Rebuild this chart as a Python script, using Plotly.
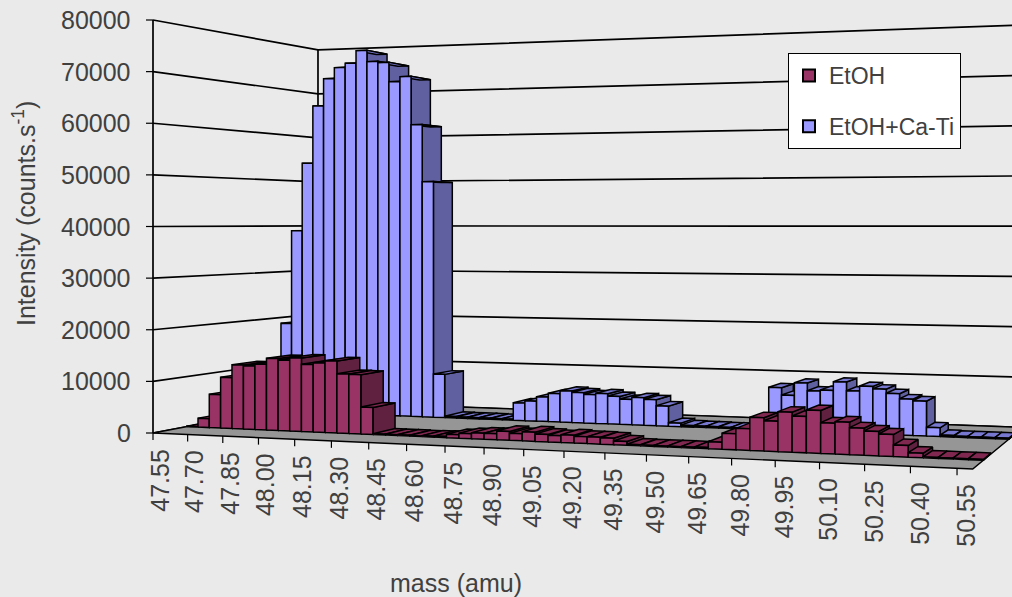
import plotly.graph_objects as go

etoh = [100, 1760, 6620, 10070, 12640, 12510, 12920, 14100, 13830, 14330, 13110, 13480, 13950, 11490, 11440, 5200,
        150, 150, 150, 120, 150, 200,
        630, 920, 1120, 1115, 1650, 1310, 1710, 1375, 1230, 1440, 1240, 1270, 1185, 680,
        200, 150, 150, 150, 150, 200,
        1260, 2870, 3860, 5930, 5410, 7110, 6430, 7580, 5430, 5700, 4740, 4260, 3820, 2010, 770,
        150, 150, 150, 150]
etoh_ca_ti = [100, 19010, 39010, 53500, 65770, 71560, 73840, 74700, 77310, 74900, 74610, 70520, 71510, 61340, 49330, 9030,
              300, 250, 250, 250, 200, 200,
              3610, 4100, 5010, 5790, 6400, 6150, 5820, 6100, 5630, 5100, 5540, 5210, 4010, 700,
              300, 250, 250, 200, 200, 200, 200,
              8390, 6950, 9440, 7960, 8170, 9860, 8190, 9170, 8720, 7920, 6960, 6660, 1670, 300,
              200, 200, 200, 200]
mass_labels = ["47.55", "47.70", "47.85", "48.00", "48.15", "48.30", "48.45", "48.60", "48.75", "48.90", "49.05",
               "49.20", "49.35", "49.50", "49.65", "49.80", "49.95", "50.10", "50.25", "50.40", "50.55"]
intensity_ticks = [0, 10000, 20000, 30000, 40000, 50000, 60000, 70000, 80000]

N = len(etoh)
TEXT = "#404040"
FS = 25
FAMILY = "Liberation Sans"


def project(i, d, v=0.0):
    w = 1 - 0.002408 * i + 0.173 * d
    x = (153 + 11.096 * i + 220 * d) / w
    y = (433 - 0.539 * i + 38.5 * d - v * 413 / 80000) / w
    return x, y


def poly(points, fill, width=1.5, line="#000000"):
    xy = [project(*p) for p in points]
    xy.append(xy[0])
    return go.Scatter(x=[p[0] for p in xy], y=[p[1] for p in xy], mode="lines", fill="toself",
                      fillcolor=fill, line=dict(color=line, width=width), hoverinfo="skip", showlegend=False)


fig = go.Figure()

# walls: gridlines run along the left wall and then along the back wall
for v in intensity_ticks:
    pts = [project(0, 0, v), project(0, 1, v), project(N, 1, v)]
    fig.add_trace(go.Scatter(x=[p[0] for p in pts], y=[p[1] for p in pts], mode="lines",
                             line=dict(color="#000000", width=1.7), hoverinfo="skip", showlegend=False))
for d in (0, 1):
    pts = [project(0, d, 0), project(0, d, intensity_ticks[-1])]
    fig.add_trace(go.Scatter(x=[p[0] for p in pts], y=[p[1] for p in pts], mode="lines",
                             line=dict(color="#000000", width=1.7), hoverinfo="skip", showlegend=False))

# floor
fig.add_trace(poly([(0, 0), (N, 0), (N, 1), (0, 1)], "#969696", width=1.4))


def bars(values, d1, d2, front, side, top):
    for i, v in enumerate(values):
        fig.add_trace(poly([(i + 1, d1, 0), (i + 1, d2, 0), (i + 1, d2, v), (i + 1, d1, v)], side))
        fig.add_trace(poly([(i, d1, v), (i + 1, d1, v), (i + 1, d2, v), (i, d2, v)], top))
        fig.add_trace(poly([(i, d1, 0), (i + 1, d1, 0), (i + 1, d1, v), (i, d1, v)], front))


bars(etoh_ca_ti, 0.678, 0.822, "#9999FF", "#6060A0", "#7878D0")
bars(etoh, 0.18, 0.325, "#993366", "#602040", "#80284F")

# axis ticks
for v in intensity_ticks:
    x0, y0 = project(0, 0, v)
    fig.add_trace(go.Scatter(x=[x0 - 7, x0], y=[y0, y0], mode="lines", line=dict(color="#000000", width=1.2),
                             hoverinfo="skip", showlegend=False))
for k in range(len(mass_labels)):
    x0, y0 = project(3 * k, 0, 0)
    fig.add_trace(go.Scatter(x=[x0, x0], y=[y0, y0 + 7], mode="lines", line=dict(color="#000000", width=1.2),
                             hoverinfo="skip", showlegend=False))

# legend entries
fig.add_trace(go.Scatter(x=[None], y=[None], mode="markers", name="EtOH", legendgroup="a",
                         marker=dict(symbol="square", size=12, color="#993366", line=dict(color="#000000", width=2))))
fig.add_trace(go.Scatter(x=[None], y=[None], mode="markers", name="EtOH+Ca-Ti", legendgroup="b",
                         marker=dict(symbol="square", size=12, color="#9999FF", line=dict(color="#000000", width=2))))

ann = []
for v in intensity_ticks:
    x0, y0 = project(0, 0, v)
    ann.append(dict(x=x0 - 20, y=y0, xref="x", yref="y", text=str(v), showarrow=False, xanchor="right",
                    yanchor="middle", font=dict(size=FS, color=TEXT)))
for k, lab in enumerate(mass_labels):
    x0, y0 = project(3 * k + 0.6, 0, 0)
    ann.append(dict(x=x0, y=y0 + 13, xref="x", yref="y", text=lab, showarrow=False, textangle=-90, xanchor="center",
                    yanchor="top", font=dict(size=FS, color=TEXT)))
ann.append(dict(x=456, y=583, xref="x", yref="y", text="mass (amu)", showarrow=False, xanchor="center",
                yanchor="middle", font=dict(size=FS, color=TEXT)))
ann.append(dict(x=24, y=214, xref="x", yref="y", text="Intensity (counts.s<sup>-1</sup>)", showarrow=False,
                textangle=-90, xanchor="center", yanchor="middle", font=dict(size=FS, color=TEXT)))

fig.update_layout(
    width=1012, height=597, autosize=False,
    margin=dict(l=0, r=0, t=0, b=0),
    font=dict(family=FAMILY, color=TEXT),
    paper_bgcolor="#EAEAEA", plot_bgcolor="#EAEAEA",
    xaxis=dict(range=[0, 1012], visible=False, fixedrange=True),
    yaxis=dict(range=[597, 0], visible=False, fixedrange=True),
    annotations=ann,
    showlegend=True,
    legend=dict(x=788 / 1012, y=1 - 53 / 597, xanchor="left", yanchor="top", bgcolor="#FFFFFF",
                bordercolor="#000000", borderwidth=1, font=dict(size=23, color=TEXT),
                entrywidth=143, entrywidthmode="pixels", tracegroupgap=18, itemwidth=30),
)
fig.write_html("out.html", config={"displayModeBar": False},
               post_script="document.body.style.margin='0';document.body.style.overflow='hidden';")
